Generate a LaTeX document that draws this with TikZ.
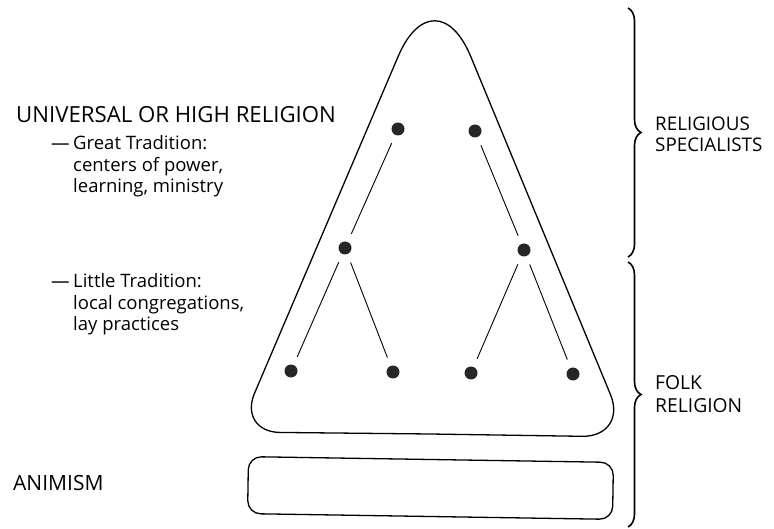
\documentclass[tikz,border=0pt]{standalone}
\usepackage{fontspec}
\setmainfont{Open Sans}
\usetikzlibrary{decorations.pathreplacing}
\begin{document}
\begin{tikzpicture}[x=1pt,y=-1pt,
  capstxt/.style={anchor=base west,inner sep=0,font=\fontsize{22.2}{24}\selectfont},
  sidetxt/.style={anchor=base west,inner sep=0,font=\fontsize{18.8}{22}\selectfont},
  lowtxt/.style={anchor=base west,inner sep=0,font=\fontsize{18.5}{22}\selectfont},
  dot/.style={circle,fill=black!85,inner sep=0,minimum size=13pt,outer sep=9pt},
  link/.style={line width=0.9pt},
  outline/.style={line width=1.3pt},
  bracket/.style={line width=1.6pt,decorate,decoration={brace,amplitude=13pt,aspect=0.5}}]
\useasboundingbox (0,0) rectangle (774,529);

% triangle
\coordinate (M) at (430,434);
\coordinate (BL) at (238,432);
\coordinate (AP) at (435,-30);
\coordinate (BR) at (628,437);
\draw[outline] (M) [rounded corners=42pt] -- (BL) [rounded corners=94pt] -- (AP) [rounded corners=46pt] -- (BR) [sharp corners] -- cycle;

% bottom box
\node[draw,outline,rounded corners=13pt,minimum width=365pt,minimum height=57pt,rotate=-0.9] (anim) at (430.5,488) {};

% dots
\node[dot] (t1) at (398,129) {};
\node[dot] (t2) at (475,131) {};
\node[dot] (m1) at (345,248) {};
\node[dot] (m2) at (524,250) {};
\node[dot] (b1) at (291,371) {};
\node[dot] (b2) at (393,372) {};
\node[dot] (b3) at (471,373) {};
\node[dot] (b4) at (573,374) {};
\draw[link] (t1) -- (m1);
\draw[link] (t2) -- (m2);
\draw[link] (m1) -- (b1);
\draw[link] (m1) -- (b2);
\draw[link] (m2) -- (b3);
\draw[link] (m2) -- (b4);

% braces
\coordinate (u1) at (628,8);
\coordinate (u2) at (628,257);
\coordinate (l1) at (628,262);
\coordinate (l2) at (628,527);
\draw[bracket] (u1) -- (u2);
\draw[bracket] (l1) -- (l2);

% left texts
\node[capstxt] (univ) at (16,123) {UNIVERSAL OR HIGH RELIGION};
\node[lowtxt] (gt1) at (51,150) {\makebox[22pt][l]{---}Great Tradition:};
\node[lowtxt] (gt2) at (73,172) {centers of power,};
\node[lowtxt] (gt3) at (73,193) {learning, ministry};
\node[lowtxt] (lt1) at (51,288) {\makebox[22pt][l]{---}Little Tradition:};
\node[lowtxt] (lt2) at (73,310) {local congregations,};
\node[lowtxt] (lt3) at (73,331) {lay practices};
\node[capstxt,font=\fontsize{21}{24}\selectfont] (animtxt) at (13,490) {ANIMISM};

% right texts
\node[sidetxt] (rs1) at (655,131) {RELIGIOUS};
\node[sidetxt] (rs2) at (655,152) {SPECIALISTS};
\node[sidetxt,font=\fontsize{19.3}{22}\selectfont] (fr1) at (655,389) {FOLK};
\node[sidetxt,font=\fontsize{19.3}{22}\selectfont] (fr2) at (655,412) {RELIGION};
\end{tikzpicture}
\end{document}
